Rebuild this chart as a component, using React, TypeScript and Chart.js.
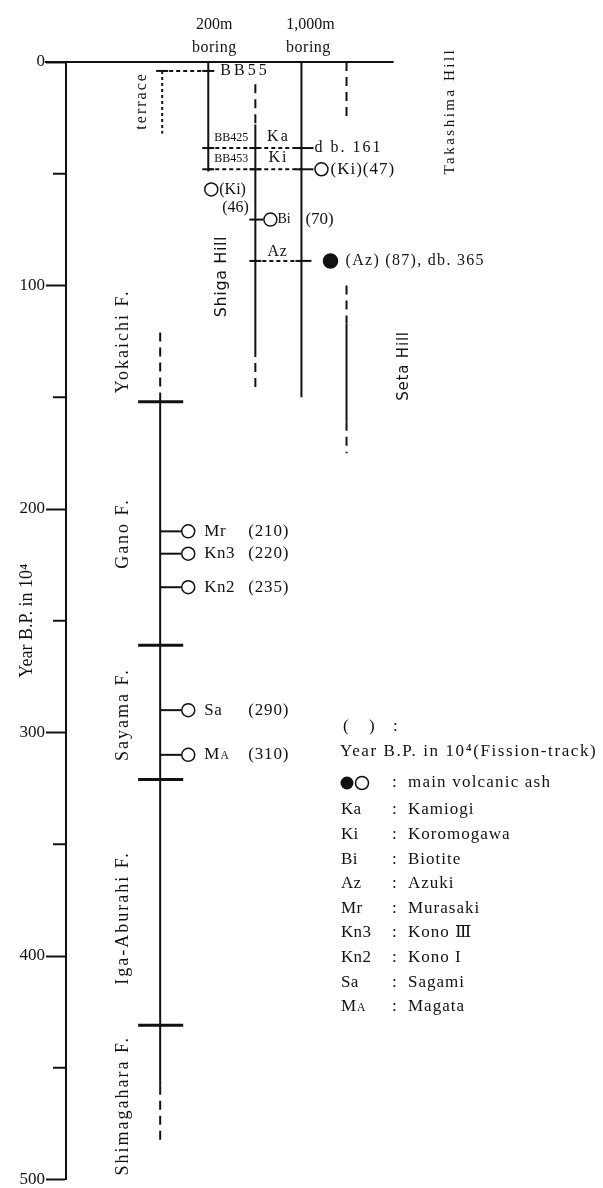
import React, { useEffect, useRef } from 'react';
import { Chart, registerables } from 'chart.js';

Chart.register(...registerables);

const W = 603;
const H = 1188;

// ---------------- data (ages in 10^4 years B.P.) ----------------
const yTickStep = 50;
const yMax = 500;

// Lower stratigraphic column (Kobiwako Group formations)
const formationNames = ['Yokaichi F.', 'Gano F.', 'Sayama F.', 'Iga-Aburahi F.', 'Shimagahara F.'];
const formationBoundaries = [152, 261, 321, 431];
const formationLabelAges = [125, 211, 292, 383, 467];
const formationDashedTop = [121, 152];
const formationSolid = [152, 458];
const formationDashedBottom = [458, 484];

// Volcanic ashes of the lower column
const lowerAshCodes = ['Mr', 'Kn3', 'Kn2', 'Sa', 'MA'];
const lowerAshAges = [210, 220, 235, 290, 310];

// Upper columns (terraces, borings, hills)
const terraceRange = [4, 32];
const boring200Range = [0, 49];
const shigaRanges: [number, number, string][] = [[10, 28, 'dash'], [28, 128, 'solid'], [128, 146, 'dash']];
const boring1000Range = [0, 150];
const takashimaRange = [0, 25];
const setaRanges: [number, number, string][] = [[100, 117, 'dash'], [117, 161, 'solid'], [161, 175, 'dash']];

// Marker horizons
const markerNames = ['BB55', 'Ka', 'Ki', 'Bi', 'Az'];
const markerLevels = [4, 38.5, 48, 70.5, 89];

// Fission-track dated ashes of the upper part
const upperAshLabels = ['(Ki)', '(Ki)', 'Bi', '(Az)'];
const upperAshAges = [46, 47, 70, 87];
const upperAshLevels = [57, 48, 70.5, 89];
const upperAshFilled = [false, false, false, true];

// Glossary
const legendCodes = ['Ka', 'Ki', 'Bi', 'Az', 'Mr', 'Kn3', 'Kn2', 'Sa', 'MA'];
const legendNames = ['Kamiogi', 'Koromogawa', 'Biotite', 'Azuki', 'Murasaki', 'Kono Ⅲ', 'Kono I', 'Sagami', 'Magata'];

// ---------------- layout (column positions on the x scale) ----------------
const X_MAX = 527.5;
const COL = { axis: 0, formation: 94, terrace: 96, b200: 142, shiga: 189, b1000: 235, hill: 280 };
const INK = '#111';
const SERIF = '"Liberation Serif", "DejaVu Serif", serif';
const SANS = '"DejaVu Sans", "Liberation Sans", sans-serif';

const dashFor = (s: string) => (s === 'dash' ? [9, 6] : s === 'dot' ? [3, 3] : s === 'hdash' ? [4, 3] : []);

function seg(x1: number, y1: number, x2: number, y2: number, style = 'solid', width = 2) {
  return {
    data: [{ x: x1, y: y1 }, { x: x2, y: y2 }],
    showLine: true,
    borderColor: INK,
    borderWidth: width,
    borderDash: dashFor(style),
    pointRadius: 0,
    pointHoverRadius: 0,
    clip: false as any,
  };
}

function buildDatasets() {
  const ds: any[] = [];
  // top line
  ds.push(seg(-21, 0, 327, 0, 'solid', 2));
  // lower formation column
  ds.push(seg(COL.formation, formationDashedTop[0], COL.formation, formationDashedTop[1], 'dash'));
  ds.push(seg(COL.formation, formationSolid[0], COL.formation, formationSolid[1], 'solid'));
  ds.push(seg(COL.formation, formationDashedBottom[0], COL.formation, formationDashedBottom[1], 'dash'));
  formationBoundaries.forEach((b) => ds.push(seg(COL.formation - 22, b, COL.formation + 23, b, 'solid', 3)));
  lowerAshAges.forEach((a) => ds.push(seg(COL.formation, a, COL.formation + 21, a, 'solid', 2)));
  // upper columns
  ds.push(seg(COL.terrace, terraceRange[0], COL.terrace, terraceRange[1], 'dot'));
  ds.push(seg(COL.b200, boring200Range[0], COL.b200, boring200Range[1], 'solid'));
  shigaRanges.forEach(([a, b, s]) => ds.push(seg(COL.shiga, a, COL.shiga, b, s)));
  ds.push(seg(COL.b1000, boring1000Range[0], COL.b1000, boring1000Range[1], 'solid'));
  ds.push(seg(COL.hill, takashimaRange[0], COL.hill, takashimaRange[1], 'dash'));
  setaRanges.forEach(([a, b, s]) => ds.push(seg(COL.hill, a, COL.hill, b, s)));
  // marker horizons
  const [bb55, ka, ki, bi, az] = markerLevels;
  ds.push(seg(COL.terrace, bb55, COL.b200, bb55, 'hdash'));
  ds.push(seg(COL.b200, ka, COL.b1000, ka, 'hdash'));
  ds.push(seg(COL.b200, ki, COL.b1000, ki, 'hdash'));
  ds.push(seg(COL.shiga, az, COL.b1000, az, 'hdash'));
  // crossing ticks
  const cross = (x: number, y: number, l = 6, r = 6) => ds.push(seg(x - l, y, x + r, y, 'solid', 2));
  cross(COL.terrace, bb55); cross(COL.b200, bb55);
  cross(COL.b200, ka); cross(COL.shiga, ka); cross(COL.b1000, ka, 6, 12);
  cross(COL.b200, ki); cross(COL.shiga, ki); cross(COL.b1000, ki, 6, 12);
  cross(COL.shiga, bi, 6, 8);
  cross(COL.shiga, az); cross(COL.b1000, az, 6, 10);
  // circles
  const circX = [COL.b200 + 3, COL.b1000 + 20, COL.shiga + 15, COL.b1000 + 29];
  const pts = upperAshLevels.map((v, i) => ({ x: circX[i], y: v }));
  lowerAshAges.forEach((a) => pts.push({ x: COL.formation + 28, y: a }));
  const filled = [...upperAshFilled, ...lowerAshAges.map(() => false)];
  ds.push({
    data: pts,
    showLine: false,
    pointRadius: pts.map((_, i) => (filled[i] ? 7 : 6.5)),
    pointBackgroundColor: filled.map((f) => (f ? INK : '#fff')),
    pointBorderColor: INK,
    pointBorderWidth: 1.5,
    clip: false,
  });
  return ds;
}

function text(ctx: CanvasRenderingContext2D, s: string, x: number, y: number, o: any = {}) {
  ctx.save();
  ctx.fillStyle = INK;
  ctx.font = `${o.size || 16}px ${o.family || SERIF}`;
  (ctx as any).letterSpacing = `${o.spacing || 0}px`;
  ctx.textAlign = o.align || 'left';
  ctx.textBaseline = 'middle';
  ctx.translate(x, y);
  if (o.rotate) ctx.rotate(-Math.PI / 2);
  ctx.fillText(s, 0, 0);
  ctx.restore();
}

function code(ctx: CanvasRenderingContext2D, s: string, x: number, y: number, size: number, spacing = 0) {
  if (s === 'MA') {
    text(ctx, 'M', x, y, { size, spacing });
    ctx.save();
    ctx.font = `${size}px ${SERIF}`;
    const w = ctx.measureText('M').width;
    ctx.restore();
    text(ctx, 'A', x + w + 1, y + 1.5, { size: size * 0.68, spacing });
  } else {
    text(ctx, s, x, y, { size, spacing });
  }
}

const annotations = {
  id: 'annotations',
  afterDraw(chart: any) {
    const ctx: CanvasRenderingContext2D = chart.ctx;
    const xs = chart.scales.x;
    const ys = chart.scales.y;
    const px = (u: number) => xs.getPixelForValue(u);
    const py = (v: number) => ys.getPixelForValue(v);

    // minor axis ticks
    ctx.save();
    ctx.strokeStyle = INK;
    ctx.lineWidth = 2;
    for (let v = yTickStep; v < yMax; v += 100) {
      ctx.beginPath();
      ctx.moveTo(px(COL.axis) - 13, py(v));
      ctx.lineTo(px(COL.axis), py(v));
      ctx.stroke();
    }
    ctx.restore();

    // headers
    text(ctx, '200m', px(148), py(-16.5), { size: 16, align: 'center' });
    text(ctx, 'boring', px(148), py(-6.3), { size: 16, align: 'center', spacing: 0.5 });
    text(ctx, '1,000m', px(244), py(-16.5), { size: 16, align: 'center' });
    text(ctx, 'boring', px(242), py(-6.3), { size: 16, align: 'center', spacing: 0.5 });

    // column names (rotated)
    text(ctx, 'terrace', px(76), py(17.4), { size: 16, align: 'center', rotate: true, spacing: 2 });
    text(ctx, 'Shiga Hill', px(156), py(96), { size: 16, family: SANS, align: 'center', rotate: true, spacing: 0.6 });
    text(ctx, 'Takashima Hill', px(383), py(22), { size: 15, align: 'center', rotate: true, spacing: 2.5 });
    text(ctx, 'Seta Hill', px(337), py(136), { size: 15, family: SANS, align: 'center', rotate: true, spacing: 0.8 });

    formationNames.forEach((n, i) =>
      text(ctx, n, px(57), py(formationLabelAges[i]), { size: 18, align: 'center', rotate: true, spacing: 2 })
    );

    // marker horizon labels
    const [bb55, ka, ki, , az] = markerLevels;
    text(ctx, markerNames[0], px(154), py(bb55), { size: 16, spacing: 3 });
    text(ctx, 'BB425', px(165), py(ka) - 10, { size: 12, align: 'center' });
    text(ctx, 'BB453', px(165), py(ki) - 10, { size: 12, align: 'center' });
    text(ctx, markerNames[1], px(212), py(ka) - 11, { size: 16, align: 'center', spacing: 2 });
    text(ctx, markerNames[2], px(212), py(ki) - 11, { size: 16, align: 'center', spacing: 2 });
    text(ctx, markerNames[4], px(211), py(az) - 9, { size: 16, align: 'center', spacing: 0.5 });
    text(ctx, 'd b. 161', px(248), py(ka), { size: 16, spacing: 2 });

    // upper dated ashes
    text(ctx, `${upperAshLabels[0]}`, px(COL.b200 + 11), py(upperAshLevels[0]), { size: 16 });
    text(ctx, `(${upperAshAges[0]})`, px(COL.b200 + 14), py(upperAshLevels[0]) + 18, { size: 16 });
    text(ctx, `${upperAshLabels[1]}(${upperAshAges[1]})`, px(COL.b1000 + 29), py(upperAshLevels[1]), { size: 17, spacing: 1 });
    text(ctx, upperAshLabels[2], px(COL.shiga + 22), py(upperAshLevels[2]), { size: 14 });
    text(ctx, `(${upperAshAges[2]})`, px(COL.b1000 + 4), py(upperAshLevels[2]), { size: 17 });
    text(ctx, `${upperAshLabels[3]} (${upperAshAges[3]}), db. 365`, px(COL.b1000 + 44), py(upperAshLevels[3]), {
      size: 16,
      spacing: 1.3,
    });

    // lower ashes
    lowerAshCodes.forEach((c, i) => {
      code(ctx, c, px(COL.formation + 44), py(lowerAshAges[i]), 17, 0.5);
      text(ctx, `(${lowerAshAges[i]})`, px(COL.formation + 88), py(lowerAshAges[i]), { size: 17, spacing: 0.8 });
    });

    // glossary
    const lx = 340;
    text(ctx, '(', lx + 3, 727, { size: 17 });
    text(ctx, ')', lx + 29, 727, { size: 17 });
    text(ctx, ':', lx + 53, 727, { size: 17 });
    text(ctx, 'Year B.P. in 10⁴(Fission-track)', lx, 752, { size: 17, spacing: 1.6 });
    ctx.save();
    ctx.fillStyle = INK;
    ctx.strokeStyle = INK;
    ctx.lineWidth = 1.5;
    ctx.beginPath();
    ctx.arc(lx + 7, 783, 6.5, 0, Math.PI * 2);
    ctx.fill();
    ctx.beginPath();
    ctx.arc(lx + 22, 783, 6.5, 0, Math.PI * 2);
    ctx.stroke();
    ctx.restore();
    text(ctx, ':', lx + 52, 783, { size: 17 });
    text(ctx, 'main volcanic ash', lx + 68, 783, { size: 17, spacing: 1.2 });
    legendCodes.forEach((c, i) => {
      const y = 810 + i * 24.6;
      code(ctx, c, lx + 1, y, 17, 0.3);
      text(ctx, ':', lx + 52, y, { size: 17 });
      text(ctx, legendNames[i], lx + 68, y, { size: 17, spacing: 1 });
    });
  },
};

export default function App() {
  const ref = useRef<HTMLCanvasElement>(null);
  useEffect(() => {
    if (!ref.current) return;
    const chart = new Chart(ref.current, {
      type: 'scatter',
      data: { datasets: buildDatasets() },
      options: {
        responsive: false,
        animation: false,
        devicePixelRatio: 1,
        layout: { padding: { top: 62, bottom: 2, left: 0, right: 0 } },
        plugins: { legend: { display: false }, tooltip: { enabled: false } },
        events: [],
        scales: {
          x: { type: 'linear', min: 0, max: X_MAX, display: false },
          y: {
            type: 'linear',
            reverse: true,
            min: 0,
            max: yMax,
            position: 'left',
            afterFit: (s: any) => {
              s.width = 66;
            },
            ticks: {
              stepSize: yTickStep,
              autoSkip: false,
              padding: 1,
              color: INK,
              font: { family: SERIF, size: 17, lineHeight: 0.5 },
              callback: (v: any) => (Number(v) % 100 === 0 ? String(v) : ''),
            },
            grid: {
              drawOnChartArea: false,
              drawTicks: true,
              tickLength: 20,
              tickWidth: 2,
              tickColor: (c: any) => (c.tick && c.tick.value % 100 === 0 ? INK : 'rgba(0,0,0,0)'),
            },
            border: { display: true, color: INK, width: 2 },
            title: {
              display: true,
              text: 'Year B.P. in 10⁴',
              color: INK,
              font: { family: SERIF, size: 18 },
              padding: { top: 16, bottom: 0 },
            },
          },
        },
      } as any,
      plugins: [annotations],
    });
    return () => chart.destroy();
  }, []);
  return (
    <div style={{ position: 'fixed', left: 0, top: 0, width: W, height: H, background: '#fff' }}>
      <canvas ref={ref} width={W} height={H} style={{ width: W, height: H, display: 'block' }} />
    </div>
  );
}
